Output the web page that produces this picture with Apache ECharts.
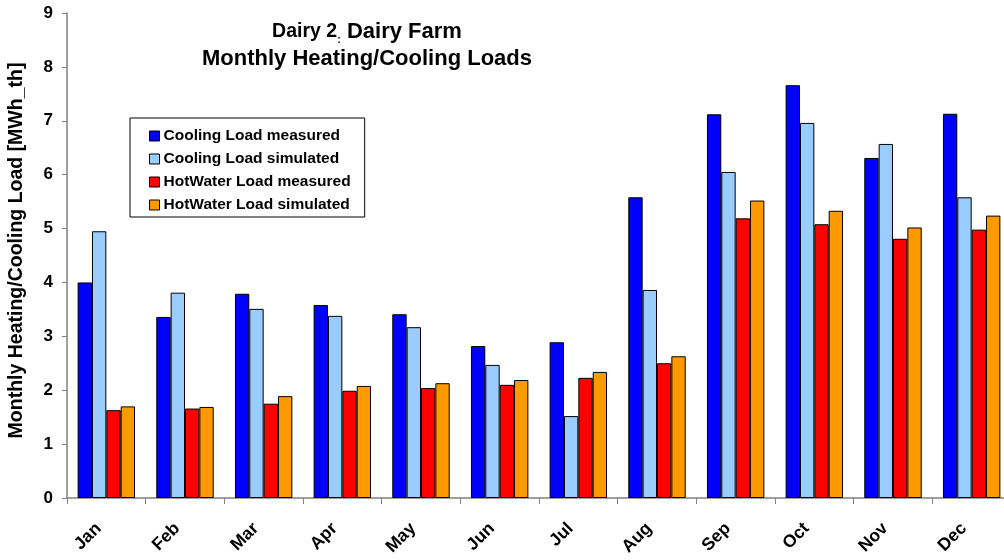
<!DOCTYPE html>
<html>
<head>
<meta charset="utf-8">
<script src="https://cdn.jsdelivr.net/npm/echarts@6/dist/echarts.min.js"></script>
<style>
  html, body { margin: 0; padding: 0; background: #fff; }
  #chart { width: 1004px; height: 560px; }
</style>
</head>
<body>
<div id="chart"></div>
<script>
// Monthly loads, MWh_th
const months = ['Jan', 'Feb', 'Mar', 'Apr', 'May', 'Jun', 'Jul', 'Aug', 'Sep', 'Oct', 'Nov', 'Dec'];
const coolingMeasured  = [4.00, 3.36, 3.79, 3.58, 3.41, 2.82, 2.89, 5.58, 7.12, 7.66, 6.31, 7.13];
const coolingSimulated = [4.95, 3.81, 3.51, 3.38, 3.17, 2.47, 1.52, 3.86, 6.05, 6.96, 6.57, 5.58];
const hotWaterMeasured = [1.63, 1.66, 1.75, 1.99, 2.04, 2.10, 2.23, 2.50, 5.19, 5.08, 4.81, 4.98];
const hotWaterSimulated = [1.70, 1.69, 1.89, 2.08, 2.13, 2.19, 2.34, 2.63, 5.52, 5.33, 5.02, 5.24];
const yTicks = [0, 1, 2, 3, 4, 5, 6, 7, 8, 9];

const seriesDefs = [
  { name: 'Cooling Load measured', data: coolingMeasured, color: '#0000FF' },
  { name: 'Cooling Load simulated', data: coolingSimulated, color: '#99CCFF' },
  { name: 'HotWater Load measured', data: hotWaterMeasured, color: '#FF0000' },
  { name: 'HotWater Load simulated', data: hotWaterSimulated, color: '#FF9900' }
];

const font = 'Arial, "Liberation Sans", sans-serif';
const chart = echarts.init(document.getElementById('chart'), null, { renderer: 'canvas' });

chart.setOption({
  animation: false,
  backgroundColor: '#ffffff',
  title: {
    text: '{a|Dairy 2}{c|:}{b| Dairy Farm}\n{b|Monthly Heating/Cooling Loads}',
    left: 362,
    top: 13,
    textAlign: 'center',
    textStyle: {
      rich: {
        a: { fontFamily: font, fontWeight: 'bold', fontSize: 19.5, color: '#000', lineHeight: 27 },
        c: { fontFamily: font, fontWeight: 'bold', fontSize: 11, color: '#000', lineHeight: 27, verticalAlign: 'bottom' },
        b: { fontFamily: font, fontWeight: 'bold', fontSize: 22, color: '#000', lineHeight: 27 }
      }
    }
  },
  legend: {
    orient: 'vertical',
    left: 130,
    top: 118,
    padding: [10, 14, 4, 19],
    itemGap: 7,
    itemWidth: 10,
    itemHeight: 10,
    borderColor: '#000',
    borderWidth: 1,
    backgroundColor: '#fff',
    icon: 'rect',
    textStyle: { fontFamily: font, fontWeight: 'bold', fontSize: 15.5, color: '#000', padding: [0, 0, 0, -1] },
    itemStyle: { borderColor: '#000', borderWidth: 1 },
    data: seriesDefs.map(s => s.name)
  },
  grid: { left: 67, top: 13, width: 944, height: 485, outerBoundsMode: 'none' },
  xAxis: {
    type: 'category',
    data: months,
    axisLine: { lineStyle: { color: '#808080', width: 1.5 } },
    axisTick: { show: true, length: 6, lineStyle: { color: '#808080' } },
    axisLabel: {
      rotate: 45,
      margin: 20,
      interval: 0,
      fontFamily: font,
      fontWeight: 'bold',
      fontSize: 17.5,
      color: '#000',
      padding: [0, 11, 0, 0]
    },
    splitLine: { show: false }
  },
  yAxis: {
    type: 'value',
    min: yTicks[0],
    max: yTicks[yTicks.length - 1],
    interval: 1,
    name: 'Monthly Heating/Cooling Load [MWh_th]',
    nameLocation: 'middle',
    nameGap: 40,
    nameTextStyle: { fontFamily: font, fontWeight: 'bold', fontSize: 19.5, color: '#000', padding: [0, 0, 0, 10] },
    axisLine: { show: true, lineStyle: { color: '#808080', width: 1.5 } },
    axisTick: { show: true, length: 5, lineStyle: { color: '#808080' } },
    axisLabel: { margin: 14, fontFamily: font, fontWeight: 'bold', fontSize: 17, color: '#000' },
    splitLine: { show: false }
  },
  series: seriesDefs.map(s => ({
    name: s.name,
    type: 'bar',
    data: s.data,
    barGap: '0%',
    barCategoryGap: '27%',
    itemStyle: { color: s.color, borderColor: '#000', borderWidth: 1 }
  }))
});
</script>
</body>
</html>
